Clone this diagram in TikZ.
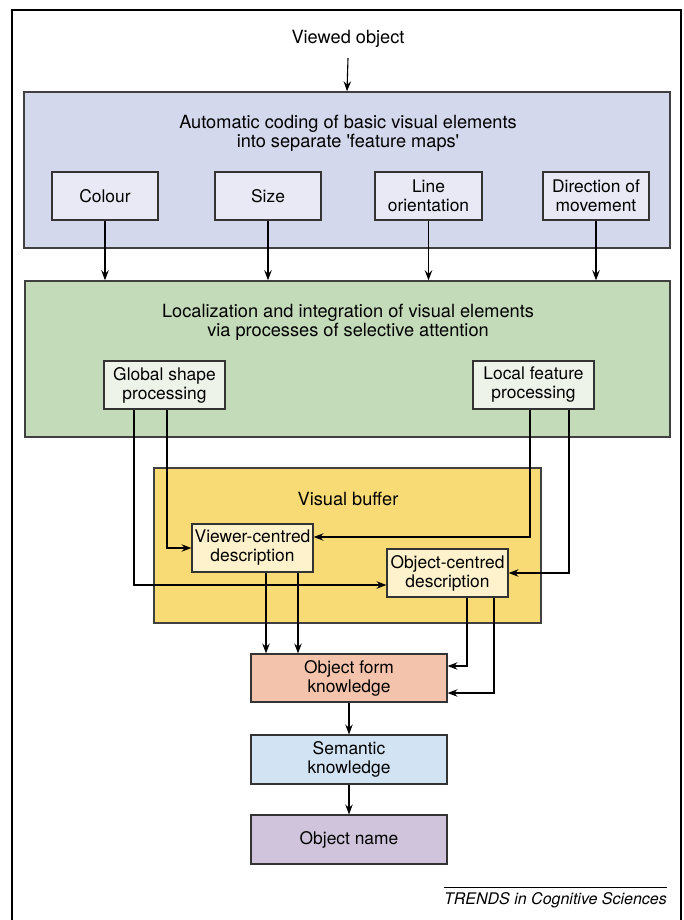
\documentclass[tikz,border=0pt]{standalone}
\usepackage{fontspec}
\setmainfont{TeX Gyre Heros}
\usetikzlibrary{arrows.meta,positioning,calc}

\definecolor{featblue}{RGB}{211,216,236}
\definecolor{featlight}{RGB}{233,233,245}
\definecolor{attngreen}{RGB}{196,219,186}
\definecolor{attnlight}{RGB}{237,243,233}
\definecolor{bufyellow}{RGB}{249,219,118}
\definecolor{buflight}{RGB}{254,242,204}
\definecolor{formsalmon}{RGB}{244,195,171}
\definecolor{semblue}{RGB}{210,227,244}
\definecolor{namepurple}{RGB}{207,196,220}

\begin{document}
\begin{tikzpicture}[x=1pt,y=-1pt, % 1 unit = 1 px, y grows downwards
  box/.style={draw=black!80,line width=1.2pt,align=center,inner sep=0pt,
    minimum height=48pt,font=\fontsize{17.4}{19}\selectfont},
  panel/.style={draw=black!75,line width=1.5pt,inner sep=0pt},
  lbl/.style={align=center,inner sep=0pt,font=\fontsize{18.2}{19}\selectfont},
  arr/.style={-{Stealth[length=10pt,width=7.5pt,inset=3.5pt]},line width=1.1pt}]
  \useasboundingbox (0,0) rectangle (683,920);

  % ===== Frame =====
  \draw[line width=1.4pt] (12,920) -- (12,10) -- (681,10) -- (681,920);

  % ===== Feature maps =====
  \node[panel,fill=featblue,minimum width=646pt,minimum height=156pt] (feat) at (347,170) {};
  \node[lbl] (feattitle) at (348,133) {Automatic coding of basic visual elements\\into separate \textquotesingle feature maps\textquotesingle};
  \node[box,fill=featlight,minimum width=106pt] (colour) at (105,196) {Colour};
  \node[box,fill=featlight,minimum width=106pt] (size) at (268,196) {Size};
  \node[box,fill=featlight,minimum width=107pt] (orient) at (428.5,196) {Line\\orientation};
  \node[box,fill=featlight,minimum width=106pt] (move) at (596,196) {Direction of\\movement};

  % ===== Selective attention =====
  \node[panel,fill=attngreen,minimum width=645pt,minimum height=156pt] (attn) at (347.5,359) {};
  \node[lbl] (attntitle) at (348,322) {Localization and integration of visual elements\\via processes of selective attention};
  \node[box,fill=attnlight,minimum width=121pt] (glob) at (164.5,385) {Global shape\\processing};
  \node[box,fill=attnlight,minimum width=121pt] (loc) at (533.5,385) {Local feature\\processing};

  % ===== Visual buffer =====
  \node[panel,fill=bufyellow,minimum width=387pt,minimum height=155pt] (buf) at (347.5,545.5) {};
  \node[lbl,anchor=base] (buftitle) at (348,505) {Visual buffer};
  \node[box,fill=buflight,minimum width=121pt] (view) at (252.5,548) {Viewer-centred\\description};
  \node[box,fill=buflight,minimum width=121pt] (objc) at (447.5,573) {Object-centred\\description};

  % ===== Knowledge stages =====
  \node[box,fill=formsalmon,minimum width=196pt] (form) at (349,678) {Object form\\knowledge};
  \node[box,fill=semblue,minimum width=196pt,minimum height=49pt] (sem) at (349,759.5) {Semantic\\knowledge};
  \node[box,fill=namepurple,minimum width=196pt,minimum height=49pt] (objname) at (349,839.5) {Object name};

  % --- Input ---
  \node[lbl,anchor=base] (viewed) at (348,44) {Viewed object};
  \draw[arr] ([yshift=-10pt]viewed.south) -- (feat.north);

  % --- Feature maps to attention ---
  \foreach \m in {colour,size,orient,move} {
    \draw[arr] (\m.south) -- (\m.south |- attn.north);
  }

  % --- Attention to buffer ---
  \draw[arr] ([xshift=-30.5pt]glob.south) |- ([yshift=-12pt]objc.west);
  \draw[arr] ([xshift=2.5pt]glob.south) |- (view.west);
  \draw[arr] ([xshift=-3.5pt]loc.south) |- ([yshift=11pt]view.east);
  \draw[arr] ([xshift=35.5pt]loc.south) |- (objc.east);

  % --- Buffer to knowledge ---
  \draw[arr] ([xshift=13.5pt]view.south) -- ([xshift=13.5pt]view.south |- form.north);
  \draw[arr] ([xshift=45.5pt]view.south) -- ([xshift=45.5pt]view.south |- form.north);
  \draw[arr] ([xshift=19.5pt]objc.south) |- ([yshift=12pt]form.east);
  \draw[arr] ([xshift=46.5pt]objc.south) |- ([yshift=-15pt]form.east);
  \draw[arr] (form) -- (sem);
  \draw[arr] (sem) -- (objname);

  % --- Source ---
  \node[anchor=base east,inner sep=0pt,font=\fontsize{16}{18}\selectfont\itshape] (trends) at (667,904) {TRENDS in Cognitive Sciences};
  \draw[line width=0.8pt] (trends.west |- 0,887) -- (trends.east |- 0,887);
\end{tikzpicture}
\end{document}
